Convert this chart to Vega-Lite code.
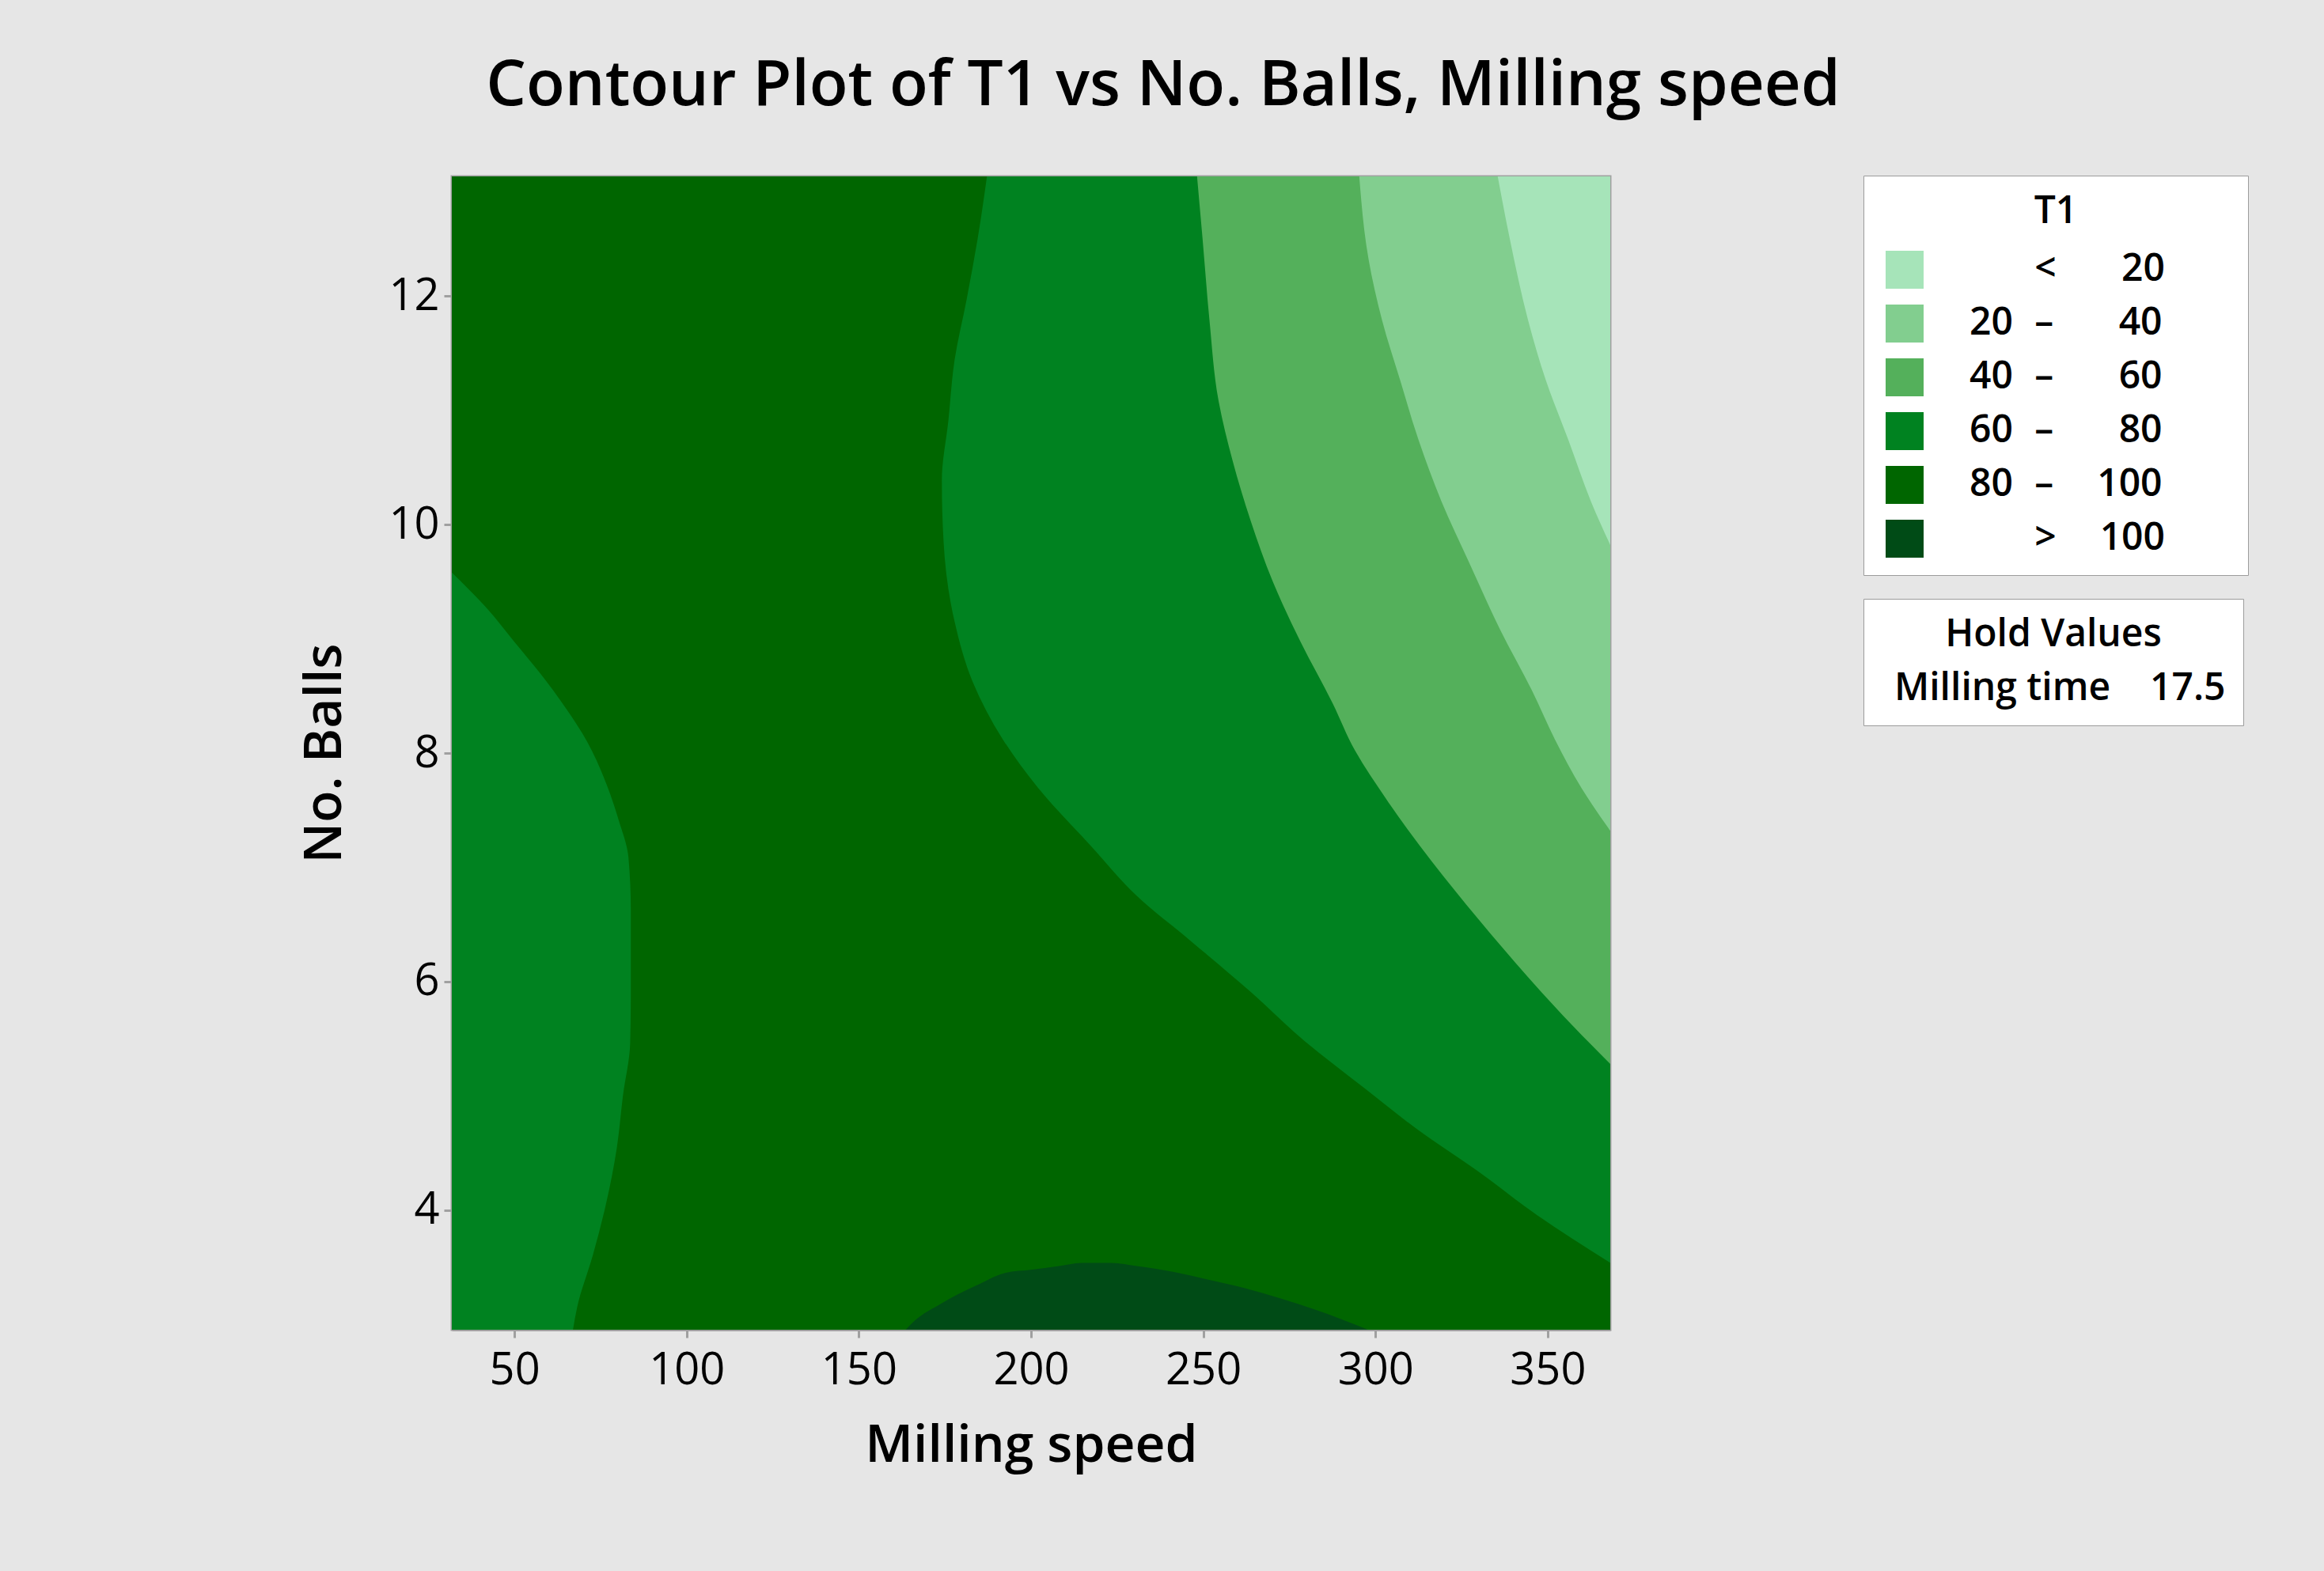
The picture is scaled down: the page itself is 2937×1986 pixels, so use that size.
{
  "$schema": "https://vega.github.io/schema/vega-lite/v6.json",
  "width": 1464,
  "height": 1458,
  "autosize": {"type": "none"},
  "padding": {"left": 571, "top": 223, "right": 902, "bottom": 305},
  "background": "#e6e6e6",
  "title": {
    "text": "Contour Plot of T1 vs No. Balls, Milling speed",
    "anchor": "middle",
    "dx": 167,
    "offset": 72,
    "fontSize": 80,
    "fontWeight": 600,
    "font": "Open Sans",
    "color": "#000000"
  },
  "datasets": {
    "contours": [
      {"part": "B", "band": "80 – 100", "speed": 31.82, "speed2": 368.18, "balls": 2.9546, "balls2": 13.0454},

      {"part": "L", "band": "60 – 80", "speed": 67.0, "balls": 2.9546},
      {"part": "L", "band": "60 – 80", "speed": 68.2, "balls": 3.15},
      {"part": "L", "band": "60 – 80", "speed": 72.8, "balls": 3.61},
      {"part": "L", "band": "60 – 80", "speed": 76.7, "balls": 4.07},
      {"part": "L", "band": "60 – 80", "speed": 79.7, "balls": 4.54},
      {"part": "L", "band": "60 – 80", "speed": 81.5, "balls": 5.00},
      {"part": "L", "band": "60 – 80", "speed": 83.6, "balls": 5.46},
      {"part": "L", "band": "60 – 80", "speed": 83.8, "balls": 5.93},
      {"part": "L", "band": "60 – 80", "speed": 83.8, "balls": 6.62},
      {"part": "L", "band": "60 – 80", "speed": 83.1, "balls": 7.09},
      {"part": "L", "band": "60 – 80", "speed": 80.3, "balls": 7.41},
      {"part": "L", "band": "60 – 80", "speed": 76.7, "balls": 7.73},
      {"part": "L", "band": "60 – 80", "speed": 71.1, "balls": 8.10},
      {"part": "L", "band": "60 – 80", "speed": 65.2, "balls": 8.38},
      {"part": "L", "band": "60 – 80", "speed": 57.4, "balls": 8.70},
      {"part": "L", "band": "60 – 80", "speed": 49.8, "balls": 8.98},
      {"part": "L", "band": "60 – 80", "speed": 42.2, "balls": 9.26},
      {"part": "L", "band": "60 – 80", "speed": 31.82, "balls": 9.58},

      {"part": "R1", "band": "60 – 80", "speed": 368.18, "balls": 3.54},
      {"part": "R1", "band": "60 – 80", "speed": 346.8, "balls": 3.96},
      {"part": "R1", "band": "60 – 80", "speed": 329.8, "balls": 4.34},
      {"part": "R1", "band": "60 – 80", "speed": 312.5, "balls": 4.70},
      {"part": "R1", "band": "60 – 80", "speed": 296.7, "balls": 5.07},
      {"part": "R1", "band": "60 – 80", "speed": 279.4, "balls": 5.48},
      {"part": "R1", "band": "60 – 80", "speed": 263.8, "balls": 5.91},
      {"part": "R1", "band": "60 – 80", "speed": 246.6, "balls": 6.35},
      {"part": "R1", "band": "60 – 80", "speed": 230.7, "balls": 6.75},
      {"part": "R1", "band": "60 – 80", "speed": 217.6, "balls": 7.18},
      {"part": "R1", "band": "60 – 80", "speed": 201.9, "balls": 7.70},
      {"part": "R1", "band": "60 – 80", "speed": 191.8, "balls": 8.12},
      {"part": "R1", "band": "60 – 80", "speed": 183.1, "balls": 8.62},
      {"part": "R1", "band": "60 – 80", "speed": 177.8, "balls": 9.15},
      {"part": "R1", "band": "60 – 80", "speed": 174.6, "balls": 9.85},
      {"part": "R1", "band": "60 – 80", "speed": 174.1, "balls": 10.38},
      {"part": "R1", "band": "60 – 80", "speed": 176.0, "balls": 10.91},
      {"part": "R1", "band": "60 – 80", "speed": 177.8, "balls": 11.44},
      {"part": "R1", "band": "60 – 80", "speed": 181.3, "balls": 11.97},
      {"part": "R1", "band": "60 – 80", "speed": 184.5, "balls": 12.50},
      {"part": "R1", "band": "60 – 80", "speed": 187.2, "balls": 13.0454},

      {"part": "R2", "band": "40 – 60", "speed": 368.18, "balls": 5.28},
      {"part": "R2", "band": "40 – 60", "speed": 357.4, "balls": 5.61},
      {"part": "R2", "band": "40 – 60", "speed": 344.3, "balls": 6.04},
      {"part": "R2", "band": "40 – 60", "speed": 329.8, "balls": 6.55},
      {"part": "R2", "band": "40 – 60", "speed": 316.4, "balls": 7.05},
      {"part": "R2", "band": "40 – 60", "speed": 303.3, "balls": 7.59},
      {"part": "R2", "band": "40 – 60", "speed": 294.1, "balls": 8.02},
      {"part": "R2", "band": "40 – 60", "speed": 287.5, "balls": 8.44},
      {"part": "R2", "band": "40 – 60", "speed": 278.3, "balls": 8.97},
      {"part": "R2", "band": "40 – 60", "speed": 270.2, "balls": 9.50},
      {"part": "R2", "band": "40 – 60", "speed": 263.8, "balls": 10.03},
      {"part": "R2", "band": "40 – 60", "speed": 258.5, "balls": 10.56},
      {"part": "R2", "band": "40 – 60", "speed": 254.4, "balls": 11.09},
      {"part": "R2", "band": "40 – 60", "speed": 251.8, "balls": 11.79},
      {"part": "R2", "band": "40 – 60", "speed": 249.8, "balls": 12.50},
      {"part": "R2", "band": "40 – 60", "speed": 248.2, "balls": 13.0454},

      {"part": "R3", "band": "20 – 40", "speed": 368.18, "balls": 7.32},
      {"part": "R3", "band": "20 – 40", "speed": 359.9, "balls": 7.69},
      {"part": "R3", "band": "20 – 40", "speed": 352.1, "balls": 8.12},
      {"part": "R3", "band": "20 – 40", "speed": 345.4, "balls": 8.55},
      {"part": "R3", "band": "20 – 40", "speed": 336.2, "balls": 9.08},
      {"part": "R3", "band": "20 – 40", "speed": 327.0, "balls": 9.68},
      {"part": "R3", "band": "20 – 40", "speed": 319.2, "balls": 10.20},
      {"part": "R3", "band": "20 – 40", "speed": 312.5, "balls": 10.74},
      {"part": "R3", "band": "20 – 40", "speed": 307.2, "balls": 11.26},
      {"part": "R3", "band": "20 – 40", "speed": 301.9, "balls": 11.79},
      {"part": "R3", "band": "20 – 40", "speed": 298.0, "balls": 12.32},
      {"part": "R3", "band": "20 – 40", "speed": 295.3, "balls": 13.0454},

      {"part": "R4", "band": "< 20", "speed": 368.18, "balls": 9.82},
      {"part": "R4", "band": "< 20", "speed": 362.6, "balls": 10.20},
      {"part": "R4", "band": "< 20", "speed": 356.0, "balls": 10.74},
      {"part": "R4", "band": "< 20", "speed": 349.5, "balls": 11.26},
      {"part": "R4", "band": "< 20", "speed": 344.3, "balls": 11.79},
      {"part": "R4", "band": "< 20", "speed": 339.0, "balls": 12.50},
      {"part": "R4", "band": "< 20", "speed": 335.5, "balls": 13.0454},

      {"part": "D", "band": "> 100", "speed": 163.6, "balls": 2.9546},
      {"part": "D", "band": "> 100", "speed": 166.1, "balls": 3.03},
      {"part": "D", "band": "> 100", "speed": 173.7, "balls": 3.18},
      {"part": "D", "band": "> 100", "speed": 184.0, "balls": 3.34},
      {"part": "D", "band": "> 100", "speed": 192.3, "balls": 3.45},
      {"part": "D", "band": "> 100", "speed": 200.3, "balls": 3.48},
      {"part": "D", "band": "> 100", "speed": 207.7, "balls": 3.51},
      {"part": "D", "band": "> 100", "speed": 214.8, "balls": 3.54},
      {"part": "D", "band": "> 100", "speed": 223.1, "balls": 3.54},
      {"part": "D", "band": "> 100", "speed": 231.1, "balls": 3.51},
      {"part": "D", "band": "> 100", "speed": 241.5, "balls": 3.46},
      {"part": "D", "band": "> 100", "speed": 251.8, "balls": 3.39},
      {"part": "D", "band": "> 100", "speed": 261.9, "balls": 3.32},
      {"part": "D", "band": "> 100", "speed": 272.3, "balls": 3.23},
      {"part": "D", "band": "> 100", "speed": 282.6, "balls": 3.13},
      {"part": "D", "band": "> 100", "speed": 290.7, "balls": 3.04},
      {"part": "D", "band": "> 100", "speed": 297.8, "balls": 2.9546}
    ],
    "hold": [{"factor": "Milling time", "value": 17.5}]
  },
  "config": {
    "font": "Open Sans",
    "view": {"stroke": "#a0a0a0", "strokeWidth": 3},
    "axis": {
      "grid": false,
      "domainColor": "#a0a0a0",
      "domainWidth": 3,
      "tickColor": "#a0a0a0",
      "tickWidth": 3,
      "tickSize": 10,
      "labelFont": "Open Sans",
      "labelFontSize": 56,
      "labelColor": "#000000",
      "labelFlush": false,
      "labelOverlap": false,
      "titleFont": "Open Sans",
      "titleFontSize": 66,
      "titleFontWeight": 600,
      "titleColor": "#000000"
    },
    "axisX": {"labelPadding": 14, "titlePadding": 35},
    "axisY": {"labelPadding": 6, "titlePadding": 46},
    "legend": {
      "fillColor": "#ffffff",
      "strokeColor": "#9c9c9c",
      "padding": 22,
      "titleFont": "Open Sans",
      "titleFontSize": 48,
      "titleFontWeight": 600,
      "titleColor": "#000000",
      "titleAnchor": "middle",
      "titleLimit": 3000,
      "labelFont": "Open Sans",
      "labelFontSize": 48,
      "labelFontWeight": 600,
      "labelColor": "#000000",
      "labelLimit": 3000
    }
  },
  "layer": [
    {
      "data": {"name": "contours"},
      "transform": [{"filter": "datum.part === 'B'"}],
      "mark": {"type": "rect", "opacity": 1, "clip": true},
      "encoding": {
        "y": {"field": "balls", "type": "quantitative", "title": "No. Balls",
              "scale": {"domain": [2.9546, 13.0454], "nice": false, "zero": false},
              "axis": {"values": [4, 6, 8, 10, 12], "format": "d"}},
        "y2": {"field": "balls2"},
        "x": {"field": "speed", "type": "quantitative", "title": "Milling speed",
              "scale": {"domain": [31.82, 368.18], "nice": false, "zero": false},
              "axis": {"values": [50, 100, 150, 200, 250, 300, 350], "format": "d"}},
        "x2": {"field": "speed2"},
        "color": {
          "field": "band", "type": "nominal",
          "scale": {
            "domain": ["< 20", "20 – 40", "40 – 60", "60 – 80", "80 – 100", "> 100"],
            "range": ["#a6e4b9", "#82ce8f", "#54b05b", "#008220", "#006600", "#004b16"]
          },
          "legend": {
            "title": "T1",
            "orient": "none",
            "legendX": 1784,
            "legendY": -1,
            "symbolType": "square",
            "symbolSize": 2304,
            "symbolStrokeWidth": 0,
            "symbolOpacity": 1,
            "symbolOffset": 6,
            "labelOffset": 58,
            "rowPadding": 20,
            "titlePadding": 25,
            "labelExpr": "datum.label === '< 20' ? '\u200c\u2007\u2007\u2007<\u2007\u2007\u200720\u2007\u2007\u2007\u200c' : datum.label === '20 – 40' ? '20\u2007–\u2007\u2007\u200740\u2007\u2007\u2007\u200c' : datum.label === '40 – 60' ? '40\u2007–\u2007\u2007\u200760\u2007\u2007\u2007\u200c' : datum.label === '60 – 80' ? '60\u2007–\u2007\u2007\u200780\u2007\u2007\u2007\u200c' : datum.label === '80 – 100' ? '80\u2007–\u2007\u2007100\u2007\u2007\u2007\u200c' : '\u200c\u2007\u2007\u2007>\u2007\u2007100\u2007\u2007\u2007\u200c'"
          }
        }
      }
    },
    {
      "data": {"name": "contours"},
      "transform": [{"filter": "datum.part === 'L'"}],
      "mark": {"type": "area", "orient": "horizontal", "interpolate": "monotone", "opacity": 1, "clip": true},
      "encoding": {
        "y": {"field": "balls", "type": "quantitative"},
        "x": {"field": "speed", "type": "quantitative", "stack": null},
        "x2": {"datum": 31.82},
        "color": {"field": "band", "type": "nominal"}
      }
    },
    {
      "data": {"name": "contours"},
      "transform": [{"filter": "datum.part === 'R1'"}],
      "mark": {"type": "area", "orient": "horizontal", "interpolate": "monotone", "opacity": 1, "clip": true},
      "encoding": {
        "y": {"field": "balls", "type": "quantitative"},
        "x": {"field": "speed", "type": "quantitative", "stack": null},
        "x2": {"datum": 368.18},
        "color": {"field": "band", "type": "nominal"}
      }
    },
    {
      "data": {"name": "contours"},
      "transform": [{"filter": "datum.part === 'R2'"}],
      "mark": {"type": "area", "orient": "horizontal", "interpolate": "monotone", "opacity": 1, "clip": true},
      "encoding": {
        "y": {"field": "balls", "type": "quantitative"},
        "x": {"field": "speed", "type": "quantitative", "stack": null},
        "x2": {"datum": 368.18},
        "color": {"field": "band", "type": "nominal"}
      }
    },
    {
      "data": {"name": "contours"},
      "transform": [{"filter": "datum.part === 'R3'"}],
      "mark": {"type": "area", "orient": "horizontal", "interpolate": "monotone", "opacity": 1, "clip": true},
      "encoding": {
        "y": {"field": "balls", "type": "quantitative"},
        "x": {"field": "speed", "type": "quantitative", "stack": null},
        "x2": {"datum": 368.18},
        "color": {"field": "band", "type": "nominal"}
      }
    },
    {
      "data": {"name": "contours"},
      "transform": [{"filter": "datum.part === 'R4'"}],
      "mark": {"type": "area", "orient": "horizontal", "interpolate": "monotone", "opacity": 1, "clip": true},
      "encoding": {
        "y": {"field": "balls", "type": "quantitative"},
        "x": {"field": "speed", "type": "quantitative", "stack": null},
        "x2": {"datum": 368.18},
        "color": {"field": "band", "type": "nominal"}
      }
    },
    {
      "data": {"name": "contours"},
      "transform": [{"filter": "datum.part === 'D'"}],
      "mark": {"type": "area", "orient": "vertical", "interpolate": "monotone", "opacity": 1, "clip": true},
      "encoding": {
        "x": {"field": "speed", "type": "quantitative"},
        "y": {"field": "balls", "type": "quantitative", "stack": null},
        "y2": {"datum": 2.9546},
        "color": {"field": "band", "type": "nominal"}
      }
    },
    {
      "data": {"name": "hold"},
      "mark": {"type": "point", "opacity": 0, "size": 0},
      "encoding": {
        "shape": {
          "field": "factor", "type": "nominal",
          "legend": {
            "title": "Hold Values",
            "orient": "none",
            "legendX": 1784,
            "legendY": 534,
            "symbolSize": 0,
            "symbolOpacity": 0,
            "symbolStrokeWidth": 0,
            "labelOffset": -31,
            "titlePadding": 20,
            "labelExpr": "datum.label + '\u00a0\u00a0\u00a0\u00a017.5'"
          }
        }
      }
    }
  ]
}
